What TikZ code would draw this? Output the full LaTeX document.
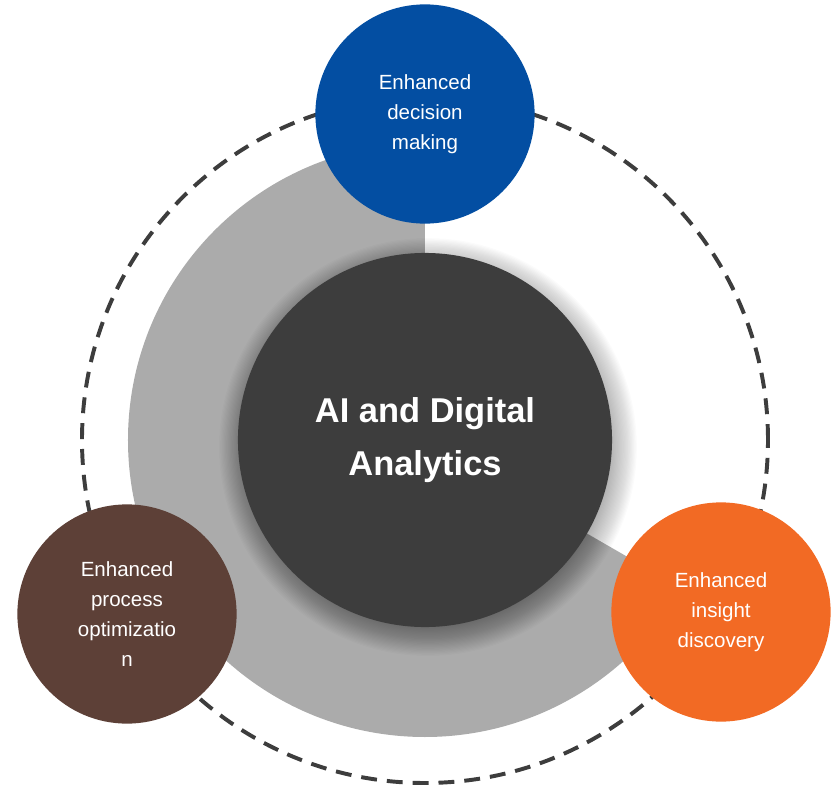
\documentclass[tikz,border=0pt]{standalone}
\usepackage{fontspec}
\setmainfont{Liberation Sans}
\usetikzlibrary{positioning}
\definecolor{decisionblue}{HTML}{034EA2}
\definecolor{processbrown}{HTML}{5D4037}
\definecolor{insightorange}{HTML}{F26A24}
\definecolor{coregray}{HTML}{3D3D3D}
\definecolor{ringgray}{HTML}{ABABAB}
\tikzset{
  outcome/.style={circle, inner sep=0pt, minimum size=5.48cm, text=white, align=center, font=\fontsize{14.6}{21.2}\selectfont},
  corecircle/.style={circle, inner sep=0pt, minimum size=9.35cm, fill=coregray, text=white, align=center, font=\bfseries\fontsize{24.5}{37.5}\selectfont},
  ringdash/.style={draw=coregray, line width=2.8pt, dash pattern=on 11.3pt off 7.1pt}
}

\begin{document}
\begin{tikzpicture}[x=0.025cm, y=0.025cm]
			\useasboundingbox (-425,-345) rectangle (413,440);
			%% gray sector behind the core
			\fill [ringgray] (0,0) -- (90:297) arc [start angle=90, end angle=330, radius=297] -- cycle;
			\draw [ringdash] (0,0) circle (343);
			%% soft shadow
			\foreach \r in {0,...,24}
				\fill [black, opacity=0.014] (3,-7) circle (180+\r*1.2);
			\node[corecircle] (core) at (0,0) {AI and Digital\\Analytics};
			
			\node[outcome, fill=decisionblue] (decision) at (0,326) {Enhanced\\decision\\making};
			\node[outcome, fill=processbrown] (process) at (-298,-174) {Enhanced\\process\\optimizatio\\n};
			\node[outcome, fill=insightorange] (insight) at (296,-172) {Enhanced\\insight\\discovery};
\end{tikzpicture}
\end{document}
